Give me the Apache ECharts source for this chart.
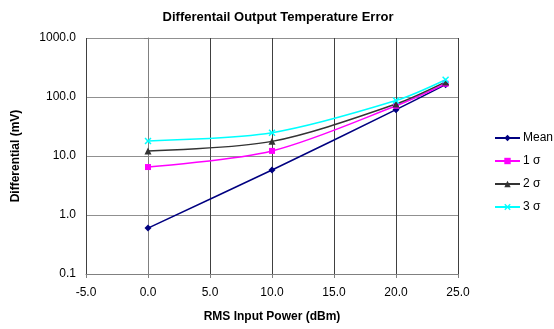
<!DOCTYPE html>
<html><head><meta charset="utf-8">
<script src="https://cdn.jsdelivr.net/npm/echarts@6/dist/echarts.min.js"></script>
<style>html,body{margin:0;padding:0;background:#fff}#c{width:554px;height:329px}</style>
</head><body><div id="c"></div>
<script>
const xValues = [0, 10, 20, 24];
const meanVals = [0.6, 5.8, 61, 162];
const sigma1Vals = [6.5, 12.2, 71, 168];
const sigma2Vals = [12.2, 17.7, 76, 180];
const sigma3Vals = [18, 24.8, 87, 196];
const seriesNames = ['Mean', '1 σ', '2 σ', '3 σ'];
const xTicks = [-5, 0, 5, 10, 15, 20, 25];

const FONT = '"Liberation Sans", Arial, sans-serif';
const xPath = 'path://M0,1.5L1.5,0L5,3.5L8.5,0L10,1.5L6.5,5L10,8.5L8.5,10L5,6.5L1.5,10L0,8.5L3.5,5Z';
function pairs(v){ return xValues.map((x,i)=>[x, v[i]]); }
const defs = [
  {name: seriesNames[0], data: meanVals, color: '#000080', symbol: 'diamond', size: 7},
  {name: seriesNames[1], data: sigma1Vals, color: '#FF00FF', symbol: 'rect', size: 6},
  {name: seriesNames[2], data: sigma2Vals, color: '#333333', symbol: 'triangle', size: 7},
  {name: seriesNames[3], data: sigma3Vals, color: '#00FFFF', symbol: xPath, size: 7}
];
const chart = echarts.init(document.getElementById('c'));
chart.setOption({
  animation: false,
  backgroundColor: '#fff',
  title: {text: 'Differentail Output Temperature Error', left: 273, textAlign: 'center', top: 6,
    textStyle: {fontFamily: FONT, fontSize: 13, fontWeight: 'bold', color: '#000'}},
  legend: {orient: 'vertical', left: 489, top: 127, itemGap: 11, itemWidth: 25, itemHeight: 8,
    textStyle: {fontFamily: FONT, fontSize: 12, color: '#000', padding: [0,0,0,-2]},
    data: seriesNames},
  grid: {left: 86, right: 96, top: 38, bottom: 55, containLabel: false},
  xAxis: {type: 'value', min: -5, max: 25, interval: 5,
    name: 'RMS Input Power (dBm)', nameLocation: 'middle', nameGap: 37,
    nameTextStyle: {fontFamily: FONT, fontSize: 12, fontWeight: 'bold', color: '#000'},
    axisLine: {onZero: false, lineStyle: {color: '#808080', width: 1}},
    axisTick: {show: true, length: 4, lineStyle: {color: '#808080'}},
    axisLabel: {fontFamily: FONT, fontSize: 12, color: '#000', margin: 13, formatter: v => v.toFixed(1)},
    splitLine: {show: true, lineStyle: {color: '#404040', width: 1}}},
  yAxis: {type: 'log', logBase: 10, min: 0.1, max: 1000,
    name: 'Differential (mV)', nameLocation: 'middle', nameGap: 64,
    nameTextStyle: {fontFamily: FONT, fontSize: 12, fontWeight: 'bold', color: '#000'},
    axisLine: {show: true, lineStyle: {color: '#808080', width: 1}},
    axisTick: {show: true, length: 4, lineStyle: {color: '#808080'}},
    axisLabel: {fontFamily: FONT, fontSize: 12, color: '#000', margin: 10, formatter: v => (+v).toFixed(1)},
    splitLine: {show: true, lineStyle: {color: '#909090', width: 1}}},
  series: defs.map(d => ({
    type: 'line', name: d.name, data: pairs(d.data), smooth: 0.3,
    symbol: d.symbol, symbolSize: d.size, showSymbol: true,
    lineStyle: {color: d.color, width: 1.5},
    itemStyle: {color: d.color}
  }))
});
</script></body></html>
